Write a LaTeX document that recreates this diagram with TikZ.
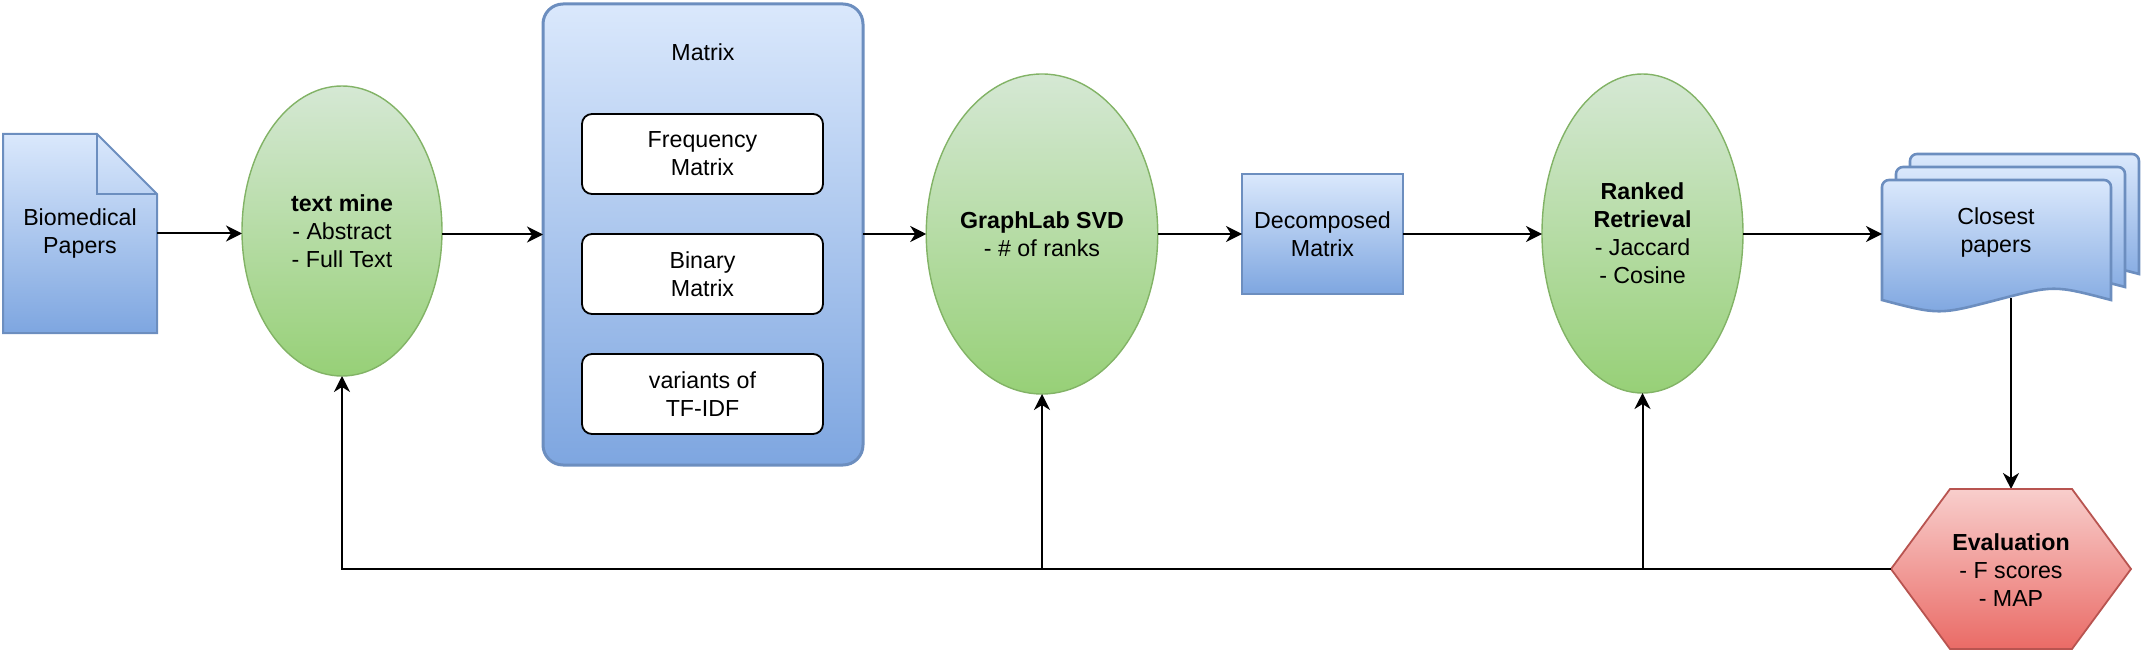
\documentclass[tikz,border=0pt]{standalone}
\usepackage{fontspec}
\setmainfont{Liberation Sans}
\usetikzlibrary{shapes.geometric,arrows.meta}
\definecolor{bluetop}{HTML}{DAE8FC}
\definecolor{bluebot}{HTML}{7EA6E0}
\definecolor{bluedraw}{HTML}{6C8EBF}
\definecolor{greentop}{HTML}{D5E8D4}
\definecolor{greenbot}{HTML}{97D077}
\definecolor{greendraw}{HTML}{82B366}
\definecolor{redtop}{HTML}{F8CECC}
\definecolor{redbot}{HTML}{EA6B66}
\definecolor{reddraw}{HTML}{B85450}
\newcommand{\cpdoc}[2]{%
  \path[bluefill, line width=1.3pt] (#1,{#2+120}) -- (#1,{#2+7}) arc[start angle=180,end angle=270,radius=7]
    -- ({#1+222},#2) arc[start angle=270,end angle=360,radius=7]
    -- ({#1+229},{#2+120}) .. controls ({#1+172},{#2+105}) .. ({#1+114.5},{#2+120})
    .. controls ({#1+57},{#2+135}) .. (#1,{#2+120}) -- cycle;}
\begin{document}
\begin{tikzpicture}[x=0.5pt,y=-0.5pt,
  every node/.style={font=\fontsize{11.6}{14}\selectfont, align=center, inner sep=0pt, outer sep=0pt},
  bluefill/.style={top color=bluetop,bottom color=bluebot,draw=bluedraw,line width=1pt},
  greenell/.style={ellipse, top color=greentop,bottom color=greenbot,draw=greendraw,line width=0.7pt},
  whitebox/.style={rectangle, rounded corners=5pt, draw=black, fill=white, line width=0.9pt,
    minimum width=120.5pt, minimum height=40pt},
  arr/.style={-{Stealth[length=8pt,width=8pt,inset=2.5pt]}, line width=1pt},
  ln/.style={line width=1pt}]
\useasboundingbox (0,0) rectangle (2144,658);

% Biomedical papers (note shape)
\path[bluefill] (3,134) -- (97,134) -- (157,194) -- (157,333) -- (3,333) -- cycle;
\draw[bluedraw, line width=1pt] (97,134) -- (97,194) -- (157,194);
\node[minimum width=77pt, minimum height=99.5pt] (bio) at (80,233.5) {Biomedical\\Papers};

% text mine
\node[greenell, minimum width=100pt, minimum height=145pt] (tm) at (342,231) {\textbf{text mine}\\- Abstract\\- Full Text};

% Matrix container
\node[rectangle, rounded corners=10pt, bluefill, line width=1.5pt, minimum width=160pt, minimum height=230.5pt] (mat) at (703,234.5) {};
\node (matl) at (703,52) {Matrix};
\node[whitebox] (fm) at (702.5,154) {Frequency\\Matrix};
\node[whitebox] (bm) at (702.5,274) {Binary\\Matrix};
\node[whitebox] (tf) at (702.5,394) {variants of\\TF-IDF};

% GraphLab SVD
\node[greenell, minimum width=100pt, minimum height=160pt] (svd) at (1042,234) {\textbf{GraphLab SVD}\\- \# of ranks};

% Decomposed matrix
\node[rectangle, bluefill, minimum width=80.5pt, minimum height=60pt] (dec) at (1322.5,234) {Decomposed\\Matrix};

% Ranked retrieval
\node[greenell, minimum width=100.5pt, minimum height=159.5pt] (rr) at (1642.5,233.5) {\textbf{Ranked}\\\textbf{Retrieval}\\- Jaccard\\- Cosine};

% connectors drawn beneath the document stack
\coordinate (cpS) at (2011,298);
\coordinate (evN) at (2011,489);
\draw[arr] (cpS) -- (evN);

% Closest papers (multiple documents)
\cpdoc{1910}{154}
\cpdoc{1896}{167}
\cpdoc{1882}{180}
\node (cp) at (1996,233) {Closest\\papers};
\coordinate (cpW) at (1882,234);

% Evaluation hexagon
\path[top color=redtop,bottom color=redbot,draw=reddraw,line width=0.9pt]
  (1950,489) -- (2072,489) -- (2131,569) -- (2072,649) -- (1950,649) -- (1891,569) -- cycle;
\node (ev) at (2011,570) {\textbf{Evaluation}\\- F scores\\- MAP};
\coordinate (evW) at (1891,569);

% main flow
\draw[arr] (bio.east) -- (bio.east -| tm.west);
\draw[arr] (tm.east |- mat.west) -- (mat.west);
\draw[arr] (mat.east |- svd.west) -- (svd.west);
\draw[arr] (svd.east) -- (dec.west);
\draw[arr] (dec.east) -- (dec.east -| rr.west);
\draw[arr] (rr.east |- cpW) -- (cpW);

% feedback
\coordinate (j1) at (1042,569);
\coordinate (j2) at (1642.5,569);
\draw[arr] (evW) -| (tm.south);
\draw[arr] (j1) -- (svd.south);
\draw[arr] (j2) -- (rr.south);
\end{tikzpicture}
\end{document}
